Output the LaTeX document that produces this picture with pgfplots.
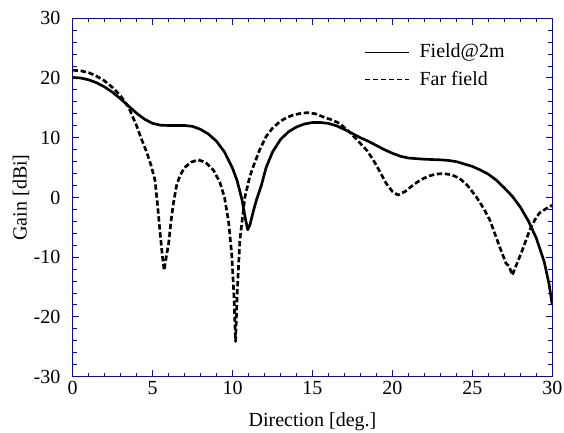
\documentclass[border=0pt]{standalone}
\usepackage{fontspec}
\setmainfont{Liberation Serif}
\usepackage{pgfplots}
\pgfplotsset{compat=1.18}
\newcommand{\fs}{\fontsize{15}{18}\selectfont}

\pgfplotstableread{
deg gain
0 20.1
0.5 20.0
1.0 19.7
1.5 19.2
2.0 18.5
2.5 17.6
3.0 16.5
3.5 15.3
4.0 14.1
4.5 13.1
5.0 12.4
5.5 12.1
6.0 12.05
6.5 12.05
7.0 12.05
7.5 11.9
8.0 11.4
8.5 10.6
9.0 9.4
9.5 7.6
10.0 4.9
10.3 2.7
10.6 -0.5
10.8 -3.5
10.95 -5.4
11.1 -4.5
11.3 -2.3
11.5 -0.4
11.8 2.0
12.1 5.0
12.5 7.6
13.0 9.7
13.5 11.0
14.0 11.8
14.5 12.3
15.0 12.55
15.5 12.55
16.0 12.4
16.5 12.0
17.0 11.4
17.5 10.7
18.0 10.0
18.5 9.4
19.0 8.7
19.5 8.0
20.0 7.4
20.5 6.9
21.0 6.6
21.5 6.5
22.0 6.4
22.5 6.35
23.0 6.3
23.5 6.2
24.0 6.0
24.5 5.6
25.0 5.2
25.5 4.6
26.0 3.9
26.5 2.9
27.0 1.6
27.5 0.2
28.0 -1.6
28.5 -3.9
29.0 -6.8
29.5 -10.8
29.8 -14.5
30.0 -18.0
}\nearfield

\pgfplotstableread{
deg gain
0 21.3
0.5 21.2
1.0 20.9
1.5 20.3
2.0 19.5
2.5 18.4
3.0 17.0
3.5 15.1
4.0 12.0
4.3 9.8
4.6 7.8
4.9 5.4
5.15 2.9
5.3 -1.0
5.45 -5.4
5.6 -9.5
5.72 -12.2
5.85 -10.0
6.0 -7.8
6.15 -4.0
6.3 -1.0
6.5 2.0
6.7 3.6
7.0 5.0
7.4 5.9
7.85 6.3
8.3 5.9
8.8 4.6
9.2 2.6
9.5 0.0
9.75 -4.0
9.95 -9.5
10.08 -16.0
10.19 -24.1
10.3 -15.5
10.46 -7.1
10.77 0.0
11.08 3.5
11.3 5.2
11.7 8.0
12.1 10.2
12.5 11.6
12.96 12.7
13.4 13.4
13.8 13.8
14.3 14.1
14.7 14.2
15.2 14.0
15.66 13.5
16.2 13.0
16.7 12.4
17.3 11.0
17.8 9.6
18.4 7.9
18.8 6.3
19.2 4.4
19.6 2.4
20.0 1.0
20.35 0.4
20.8 1.0
21.3 2.1
21.8 3.0
22.3 3.6
22.7 3.9
23.16 4.0
23.7 3.8
24.2 3.2
24.7 2.0
25.25 0.1
25.7 -1.8
26.1 -3.8
26.4 -6.0
26.7 -8.2
27.1 -11.0
27.3 -11.5
27.5 -13.0
27.8 -11.0
28.06 -9.3
28.35 -7.2
28.6 -5.4
28.9 -3.8
29.2 -2.6
29.6 -1.9
30.0 -1.3
}\farfield

\begin{document}
\fs
\begin{tikzpicture}[font=\fs]
\begin{axis}[
  scale only axis,
  width=359.7pt, height=268.8pt,
  xmin=0, xmax=30, ymin=-30, ymax=30,
  xtick={0,5,...,30}, ytick={-30,-20,...,30},
  minor x tick num=4, minor y tick num=4,
  axis line style={blue, line width=0.75pt},
  every tick/.style={blue, line width=0.75pt},
  major tick length=5pt, minor tick length=3pt,
  tick align=inside,
  /pgf/number format/assume math mode=true,
  tick label style={font=\fs},
  xticklabel={\fs\pgfmathprintnumber{\tick}},
  yticklabel={\fs\pgfmathprintnumber{\tick}},
  xticklabel style={anchor=base, yshift=-13pt},
  yticklabel style={xshift=-4pt},
  xlabel={Direction [deg.]}, ylabel={Gain [dBi]},
  xlabel style={at={(axis description cs:0.5,-0.139)}, anchor=base},
  ylabel style={at={(axis description cs:-0.0959,0.5)}, anchor=base},
  legend style={draw=none, fill=none, inner sep=0pt, at={(0.608,0.937)}, anchor=north west,
    row sep=3.8pt, font=\fs, nodes={inner sep=2pt},
    /tikz/every odd column/.append style={column sep=5.5pt}},
  legend cell align=left,
  legend image code/.code={\draw[#1, line width=0.8pt] (0pt,0pt) -- (33pt,0pt);},
]
\addplot[black, line width=2pt, line join=round] table[x=deg, y=gain] {\nearfield};
\addplot[black, line width=2pt, line join=round, dash pattern=on 4pt off 2pt] table[x=deg, y=gain] {\farfield};
\legend{{\fs Field@2m}, {\fs Far field}}
\end{axis}
\pgfresetboundingbox
\path ([shift={(-54.5pt,-41.5pt)}]current axis.south west) rectangle ([shift={(8.8pt,13.7pt)}]current axis.north east);
\end{tikzpicture}
\end{document}
